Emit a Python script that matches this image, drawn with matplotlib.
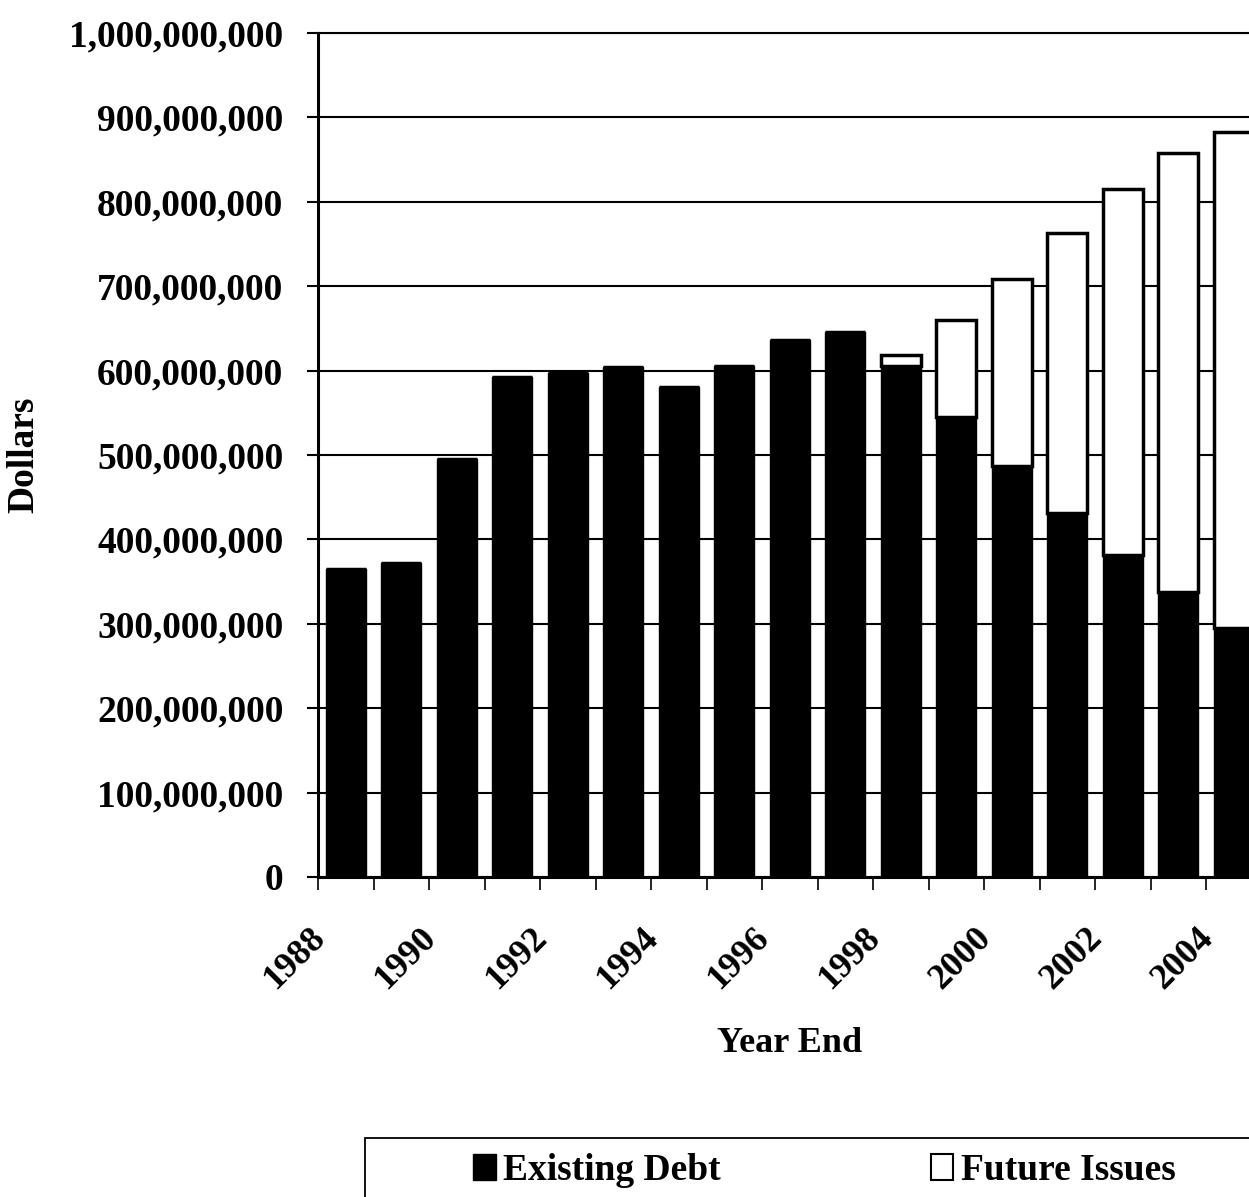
import matplotlib
matplotlib.use("Agg")
import matplotlib.pyplot as plt
import matplotlib.transforms as mtransforms
from matplotlib.patches import Patch, Rectangle
from matplotlib.ticker import FuncFormatter, FixedLocator

# Data (millions of dollars)
years = list(range(1988, 2005))
existing_debt = [365, 372, 495, 592, 597, 604, 580, 606, 636, 646,
                 606, 545, 487, 431, 381, 338, 295]
future_issues = [0, 0, 0, 0, 0, 0, 0, 0, 0, 0,
                 13, 115, 221, 332, 434, 520, 588]
y_ticks = list(range(0, 1001, 100))

plt.rcParams['font.family'] = ['Liberation Serif', 'DejaVu Serif']
plt.rcParams['font.weight'] = 'bold'

W, H = 1249, 1197
fig = plt.figure(figsize=(W / 100, H / 100), dpi=100)
# plot area runs slightly past the right edge, as in the scanned original
ax = fig.add_axes([318 / W, 1 - 877 / H, 943.5 / W, 844 / H])

x = list(range(len(years)))
existing = [v * 1e6 for v in existing_debt]
future = [v * 1e6 for v in future_issues]

ax.bar(x, existing, width=0.72, color='black', edgecolor='black', linewidth=1, zorder=3)
ax.bar(x, future, width=0.72, bottom=existing, color='white',
       edgecolor='black', linewidth=2.5, zorder=3)

ax.set_xlim(-0.5, len(years) - 0.5)
ax.set_ylim(0, 1e9)

ax.yaxis.set_major_locator(FixedLocator([v * 1e6 for v in y_ticks]))
ax.yaxis.set_major_formatter(FuncFormatter(lambda v, p: f"{v:,.0f}"))
ax.grid(axis='y', color='black', linewidth=1.5, zorder=0)
ax.set_axisbelow(True)
ax.tick_params(axis='y', direction='out', length=8, width=1.5, pad=17, labelsize=27)

# x: labels every other year at category centres, tick marks at boundaries
ax.set_xticks(x[::2])
ax.set_xticklabels([str(y) for y in years[::2]], rotation=45, ha='right',
                   fontsize=26)
ax.set_xticks([i - 0.5 for i in range(len(years) + 1)], minor=True)
ax.tick_params(axis='x', which='major', length=0, pad=32)
ax.tick_params(axis='x', which='minor', direction='out', length=9, width=1.2)
offset = mtransforms.ScaledTranslation(-0.14, 0, fig.dpi_scale_trans)
for lbl in ax.get_xticklabels():
    lbl.set_transform(lbl.get_transform() + offset)

for side in ['left', 'bottom']:
    ax.spines[side].set_linewidth(2.2)
ax.spines['top'].set_linewidth(1.5)
ax.spines['right'].set_visible(False)

ax.set_xlabel('Year End', fontsize=26, fontweight='bold', va='center')
ax.xaxis.set_label_coords(0.5, (877 - 1043) / 844)
ax.set_ylabel('Dollars', fontsize=27, fontweight='bold', va='center')
ax.yaxis.set_label_coords((24 - 318) / 943.5, 0.5)

# legend
handles = [Patch(facecolor='black', edgecolor='black'),
           Patch(facecolor='white', edgecolor='black', linewidth=1.5)]
fig.legend(handles, ['Existing Debt', 'Future Issues'], ncol=2, frameon=False,
           loc='upper left', bbox_to_anchor=(473 / W, 1 - 1153 / H),
           borderpad=0, borderaxespad=0, fontsize=27,
           handlelength=0.6, handleheight=0.7, handletextpad=0.2,
           columnspacing=5.6)
fig.patches.append(Rectangle((365 / W, -0.05), 1.0, (H - 1138) / H + 0.05,
                             transform=fig.transFigure, fill=False,
                             edgecolor='black', linewidth=1.3))

fig.savefig('out.png', dpi=100)
